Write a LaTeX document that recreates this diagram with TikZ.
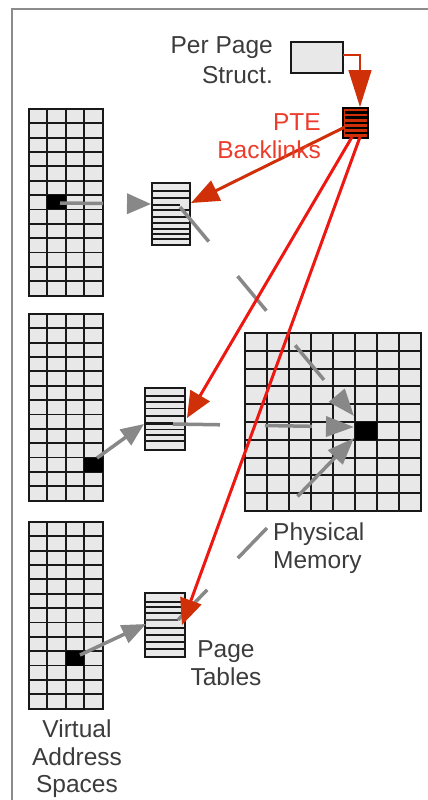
\documentclass[tikz,border=0pt]{standalone}
\usepackage{fontspec}
\setmainfont{Liberation Sans}
\usetikzlibrary{arrows.meta}
\definecolor{txtgray}{RGB}{60,60,60}
\definecolor{cellgray}{RGB}{232,232,232}
\definecolor{arrgray}{RGB}{136,136,136}
\definecolor{dkred}{RGB}{208,48,8}
\definecolor{brred}{RGB}{238,24,18}
\definecolor{ptered}{RGB}{236,60,44}
\definecolor{framegray}{RGB}{140,140,140}
\newcommand\VAgrid[3]{%
  \node[gridbox, minimum width=73.6pt, minimum height=186.55pt] (#1) at (#2,#3) {};
  \foreach \i in {1,2,3} {\draw[gridline] (#2+\i*18.4,#3) -- (#2+\i*18.4,#3+186.55);}
  \foreach \j in {1,...,12} {\draw[gridline] (#2,#3+\j*14.35) -- (#2+73.6,#3+\j*14.35);}
}
\newcommand\PTable[6]{% name, x, y, width, height, line ys
  \node[gridbox, minimum width=#4pt, minimum height=#5pt] (#1) at (#2,#3) {};
  \foreach \k in {#6} {\draw[ptline] (#2,\k) -- (#2+#4,\k);}
}
\begin{document}
\begin{tikzpicture}[x=1pt,y=-1pt,
  gridbox/.style={draw=black!90, line width=2pt, fill=cellgray, inner sep=0pt, outer sep=0pt, anchor=north west},
  gridline/.style={draw=black!90, line width=1.9pt},
  ptline/.style={draw=black!90, line width=1.7pt},
  entry/.style={draw=black!90, line width=2.6pt},
  lbl/.style={text=txtgray, font=\fontsize{24.5}{28}\selectfont, inner sep=0pt},
  redlbl/.style={text=ptered, font=\fontsize{24.5}{28}\selectfont, inner sep=0pt},
  grayarrow/.style={draw=arrgray, line width=3.5pt},
  redlink/.style={draw=brred, line width=3pt},
]
\useasboundingbox (0,0) rectangle (428,800);
% frame
\draw[framegray, line width=2.5pt] (12,800) -- (12,9) -- (428,9);

% virtual address spaces
\VAgrid{va1}{29}{109}
\VAgrid{va2}{29}{314}
\VAgrid{va3}{29}{522}
\fill[black] (47.4,195.1) rectangle ++(18.4,14.35);
\fill[black] (84.2,457.5) rectangle ++(18.4,14.35);
\fill[black] (65.8,651.15) rectangle ++(18.4,14.35);

% physical memory
\node[gridbox, minimum width=176pt, minimum height=178pt] (phys) at (245,333) {};
\foreach \i in {1,...,7} {\draw[gridline] (245+\i*22,333) -- (245+\i*22,511);}
\foreach \j in {1,...,9} {\draw[gridline] (245,333+\j*17.8) -- (421,333+\j*17.8);}
\fill[black] (355,422) rectangle ++(22,17.8);

% page tables
\PTable{pt1}{152}{183}{38}{62}{190.7,198.3,210,217.3,223.3,228.8,234,239.3}
\PTable{pt2}{145}{388}{40}{62}{396,402,408.5,416,429.5,435,441}
\PTable{pt3}{145}{593}{40}{64}{602,607,613,628,635,642,649}
\draw[entry] (152,205) -- (180,205);
\draw[entry] (145,423.5) -- (173,423.5);
\draw[entry, draw=black!70] (145,620) -- (178,620);

% per page struct and PTE block
\node[gridbox, minimum width=52pt, minimum height=31pt] (pps) at (291,42) {};
\node[draw=black, line width=1.6pt, fill=dkred, minimum width=25pt, minimum height=30pt, inner sep=0pt, outer sep=0pt, anchor=north west] (pte) at (343,108) {};
\foreach \k in {112.5,117.5,122.8,128.2,133.3} {\draw[black, line width=2.3pt] (344.5,\k) -- (366.5,\k);}

% coordinates
\coordinate (s1) at (60,203);   \coordinate (t1) at (151,204);
\coordinate (s2) at (97,458);   \coordinate (t2) at (144,424);
\coordinate (s3) at (80,655);   \coordinate (t3) at (146,624);
\coordinate (p1) at (180,207);  \coordinate (m1) at (354,416);
\coordinate (p2) at (173,424);  \coordinate (m2) at (354,427);
\coordinate (p3) at (178,620);  \coordinate (m3) at (354,438);
\coordinate (r0) at (345,127);  \coordinate (rt1) at (191,203);
\coordinate (r1) at (352,137);  \coordinate (rt2) at (187,418);
\coordinate (r2) at (360,137);  \coordinate (rt3) at (182,625);
\coordinate (ppsout) at (343,55); \coordinate (ptein) at (360,107);

% gray mapping arrows
\draw[grayarrow, dash pattern=on 43pt off 40pt, -{Triangle[length=24pt,width=20pt]}] (s1) -- (t1);
\draw[grayarrow, -{Triangle[length=23pt,width=19pt]}] (s2) -- (t2);
\draw[grayarrow, -{Triangle[length=24pt,width=19pt]}] (s3) -- (t3);
\draw[grayarrow, dash pattern=on 45pt off 45pt, -{Triangle[length=27pt,width=20pt]}] (p1) -- (m1);
\draw[grayarrow, dash pattern=on 47pt off 45pt, -{Triangle[length=28pt,width=20pt]}] (p2) -- (m2);
\draw[grayarrow, dash pattern=on 42pt off 44pt on 42pt off 44pt on 60pt off 20pt, -{Triangle[length=27pt,width=20pt]}] (p3) -- (m3);

% red backlinks
\draw[dkred, line width=1.5pt, -{Triangle[length=37pt,width=23pt]}] (ppsout) -| (ptein);
\draw[dkred, line width=3pt, -{Triangle[length=28pt,width=22pt]}] (r0) -- (rt1);
\draw[redlink, -{Triangle[length=26pt,width=22pt,color=dkred]}] (r1) -- (rt2);
\draw[redlink, -{Triangle[length=26pt,width=22pt,color=dkred]}] (r2) -- (rt3);

% labels
\node[lbl, anchor=base east] (lpps1) at (273,54) {Per Page};
\node[lbl, anchor=base east] (lpps2) at (273,83) {Struct.};
\node[redlbl, anchor=base east] (lbl1) at (321,130) {PTE};
\node[redlbl, anchor=base east] (lbl2) at (321,158) {Backlinks};
\node[lbl, anchor=base west] (lpm1) at (273,540) {Physical};
\node[lbl, anchor=base west] (lpm2) at (273,568) {Memory};
\node[lbl, anchor=base] (lpt1) at (226,657) {Page};
\node[lbl, anchor=base] (lpt2) at (226,685) {Tables};
\node[lbl, anchor=base] (lva1) at (77,737) {Virtual};
\node[lbl, anchor=base] (lva2) at (77,765) {Address};
\node[lbl, anchor=base] (lva3) at (77,792) {Spaces};
\end{tikzpicture}
\end{document}
